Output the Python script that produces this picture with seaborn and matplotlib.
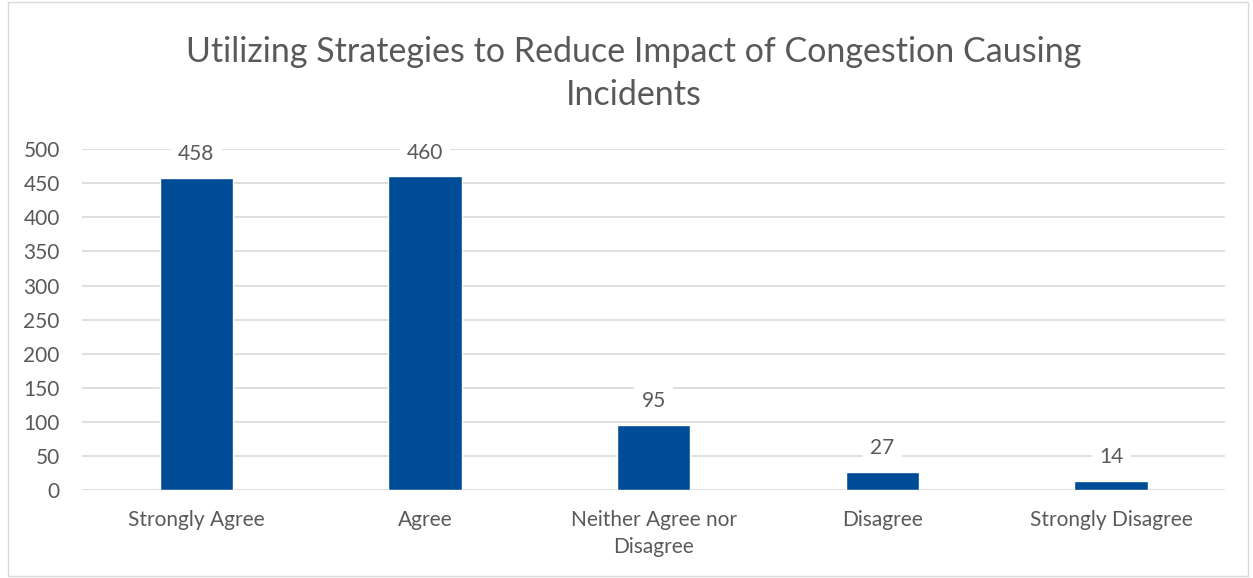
import matplotlib
matplotlib.use('Agg')
import matplotlib.pyplot as plt
import seaborn as sns
import pandas as pd
from matplotlib.patches import Rectangle

categories = ['Strongly Agree', 'Agree', 'Neither Agree nor\nDisagree',
              'Disagree', 'Strongly Disagree']
counts = [458, 460, 95, 27, 14]
yticks = [0, 50, 100, 150, 200, 250, 300, 350, 400, 450, 500]

df = pd.DataFrame({'response': categories, 'count': counts})

sns.set_style('white')
plt.rcParams['font.family'] = ['Lato', 'DejaVu Sans']
text_color = '#595959'

fig = plt.figure(figsize=(12.53, 5.78), dpi=100)
ax = fig.add_axes([0.0654, 0.152, 0.9126, 0.59])

sns.barplot(data=df, x='response', y='count', color='#004C97',
            width=0.32, saturation=1, ax=ax, zorder=3)

ax.set_ylim(0, 500)
ax.set_yticks(yticks)
ax.yaxis.grid(True, color='#D9D9D9', linewidth=1.2, zorder=0)
ax.set_axisbelow(True)
for s in ax.spines.values():
    s.set_visible(False)
ax.set_xlabel('')
ax.set_ylabel('')
ax.tick_params(axis='both', length=0, labelsize=15, colors=text_color)
ax.tick_params(axis='x', pad=14)
ax.tick_params(axis='y', pad=16)
for lbl in ax.get_xticklabels():
    lbl.set_linespacing(1.45)

# data labels with white box over the gridlines
for i, v in enumerate(counts):
    ax.annotate(str(v), (i, v), xytext=(0, 10), textcoords='offset points',
                ha='center', va='bottom', fontsize=15, color=text_color,
                bbox=dict(boxstyle='square,pad=0.35', fc='white', ec='none'),
                zorder=4)

fig.text(0.506, 0.873, 'Utilizing Strategies to Reduce Impact of Congestion Causing\nIncidents',
         ha='center', va='center', fontsize=24.5, color=text_color, linespacing=1.42)

fig.patches.append(Rectangle((0.006, 0.003), 0.99, 0.994, transform=fig.transFigure,
                             fill=False, ec='#D9D9D9', lw=1))

fig.savefig('out.png', dpi=100)
